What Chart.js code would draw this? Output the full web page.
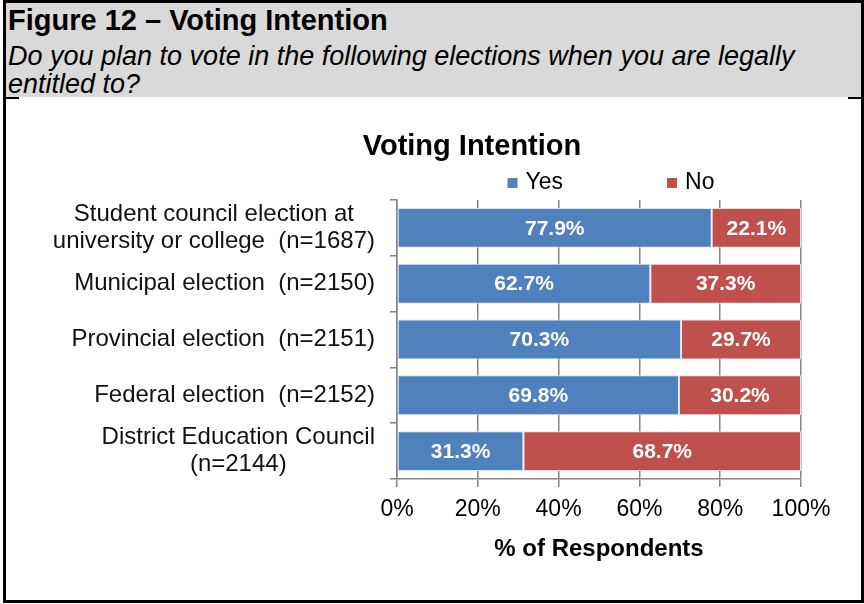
<!DOCTYPE html>
<html>
<head>
<meta charset="utf-8">
<title>Voting Intention</title>
<script src="https://cdn.jsdelivr.net/npm/chart.js@4.4.1/dist/chart.umd.min.js"></script>
<style>
  body { margin: 0; background: #fff; font-family: Arial, "Liberation Sans", sans-serif; }
  #frame { position: absolute; left: 3px; top: 0; width: 855px; height: 597px; border: 3px solid #000; }
  #head { position: absolute; left: 0; top: 0; width: 855px; height: 94px; background: #d9d9d9; }
  #head .fig { position: absolute; left: 2px; top: 1px; font: bold 29px/32px Arial, "Liberation Sans", sans-serif; color: #000; white-space: nowrap; }
  #head .q { position: absolute; left: 2px; top: 39px; font: italic 27px/28px Arial, "Liberation Sans", sans-serif; color: #000; white-space: nowrap; }
  .stub { position: absolute; top: 94px; height: 2px; width: 13px; background: #000; }
  #wrap { position: absolute; left: 0; top: 0; width: 864px; height: 604px; }
</style>
</head>
<body>
<div id="frame">
  <div id="head">
    <div class="fig">Figure 12 – Voting Intention</div>
    <div class="q">Do you plan to vote in the following elections when you are legally<br>entitled to?</div>
  </div>
  <div class="stub" style="left:0"></div>
  <div class="stub" style="right:0"></div>
</div>
<div id="wrap"><canvas id="votingChart" width="864" height="604"></canvas></div>
<script>
const chartTitle = "Voting Intention";
const axisTitle = "% of Respondents";
const categories = [
    ["Student council election at", "university or college  (n=1687)"],
    "Municipal election  (n=2150)",
    "Provincial election  (n=2151)",
    "Federal election  (n=2152)",
    ["District Education Council", "(n=2144)"]
];
const yesValues = [77.9, 62.7, 70.3, 69.8, 31.3];
const noValues = [22.1, 37.3, 29.7, 30.2, 68.7];
const xTicks = [0, 20, 40, 60, 80, 100];

const FONT = 'Arial, "Liberation Sans", sans-serif';
const axisGrey = '#858585';

// chart title + legend drawn above the plot
const headerPlugin = {
    id: 'header',
    afterDraw(chart) {
        const ctx = chart.ctx;
        const area = chart.chartArea;
        ctx.save();
        ctx.fillStyle = '#000';
        ctx.textBaseline = 'middle';
        ctx.textAlign = 'center';
        ctx.font = 'bold 29px ' + FONT;
        ctx.fillText(chartTitle, 472, 147);

        ctx.font = '23px ' + FONT;
        ctx.textAlign = 'left';
        const items = chart.data.datasets.map(ds => ({
            text: ds.label,
            color: ds.backgroundColor,
            w: 10 + 8 + ctx.measureText(ds.label).width
        }));
        const gap = 104;
        const total = items.reduce((s, it) => s + it.w, 0) + gap * (items.length - 1);
        let x = (area.left + area.right) / 2 + 12 - total / 2;
        const y = 183;
        items.forEach(it => {
            ctx.fillStyle = it.color;
            ctx.fillRect(x, y - 5, 10, 10);
            ctx.fillStyle = '#000';
            ctx.fillText(it.text, x + 18, y);
            x += it.w + gap;
        });
        ctx.restore();
    }
};

// category labels: right-aligned blocks, lines centred inside each block
const categoryLabels = {
    id: 'categoryLabels',
    afterDraw(chart) {
        const ctx = chart.ctx;
        const yScale = chart.scales.y;
        const right = yScale.right - 22;
        ctx.save();
        ctx.font = '24px ' + FONT;
        ctx.fillStyle = '#111';
        ctx.textAlign = 'center';
        ctx.textBaseline = 'middle';
        categories.forEach((lab, i) => {
            const lines = Array.isArray(lab) ? lab : [lab];
            const w = Math.max(...lines.map(l => ctx.measureText(l).width));
            const cx = right - w / 2;
            const cy = yScale.getPixelForValue(i);
            lines.forEach((l, j) => {
                ctx.fillText(l, cx, cy + (j - (lines.length - 1) / 2) * 27);
            });
        });
        ctx.restore();
    }
};

// percentage labels inside the bar segments
const barLabels = {
    id: 'barLabels',
    afterDatasetsDraw(chart) {
        const ctx = chart.ctx;
        ctx.save();
        ctx.font = 'bold 21px ' + FONT;
        ctx.fillStyle = '#fff';
        ctx.textAlign = 'center';
        ctx.textBaseline = 'middle';
        chart.data.datasets.forEach((ds, di) => {
            chart.getDatasetMeta(di).data.forEach((bar, i) => {
                const p = bar.getProps(['x', 'y', 'base'], true);
                ctx.fillText(ds.data[i].toFixed(1) + '%', (p.x + p.base) / 2, p.y + 1);
            });
        });
        ctx.restore();
    }
};

const ctx = document.getElementById('votingChart').getContext('2d');
new Chart(ctx, {
    type: 'bar',
    data: {
        labels: categories,
        datasets: [
            { label: 'Yes', data: yesValues, backgroundColor: '#4f81bd' },
            { label: 'No', data: noValues, backgroundColor: '#c0504d' }
        ]
    },
    options: {
        indexAxis: 'y',
        responsive: false,
        animation: false,
        devicePixelRatio: 1,
        layout: { padding: { left: 10, right: 63, top: 200, bottom: 40 } },
        datasets: {
            bar: {
                barPercentage: 0.715,
                categoryPercentage: 1,
                borderWidth: 1,
                borderColor: '#e4e4e4',
                borderSkipped: false
            }
        },
        plugins: {
            legend: { display: false },
            title: { display: false },
            tooltip: { enabled: false }
        },
        scales: {
            x: {
                stacked: true,
                min: 0,
                max: 100,
                afterFit(scale) { scale.height = 85; },
                afterBuildTicks(scale) { scale.ticks = xTicks.map(v => ({ value: v })); },
                ticks: {
                    color: '#000',
                    font: { size: 23, family: FONT },
                    padding: 9,
                    callback: v => v + '%'
                },
                grid: { color: axisGrey, lineWidth: 1.5, tickLength: 8 },
                border: { color: axisGrey, width: 1.5 },
                title: {
                    display: true,
                    text: axisTitle,
                    color: '#000',
                    font: { size: 24, weight: 'bold', family: FONT },
                    padding: { top: 0, bottom: 0 }
                }
            },
            y: {
                stacked: true,
                afterFit(scale) { scale.width = 387; },
                ticks: { display: false },
                grid: { drawOnChartArea: false, color: axisGrey, lineWidth: 1.5, tickLength: 7, offset: true },
                border: { color: axisGrey, width: 1.5 }
            }
        }
    },
    plugins: [headerPlugin, categoryLabels, barLabels]
});
</script>
</body>
</html>
